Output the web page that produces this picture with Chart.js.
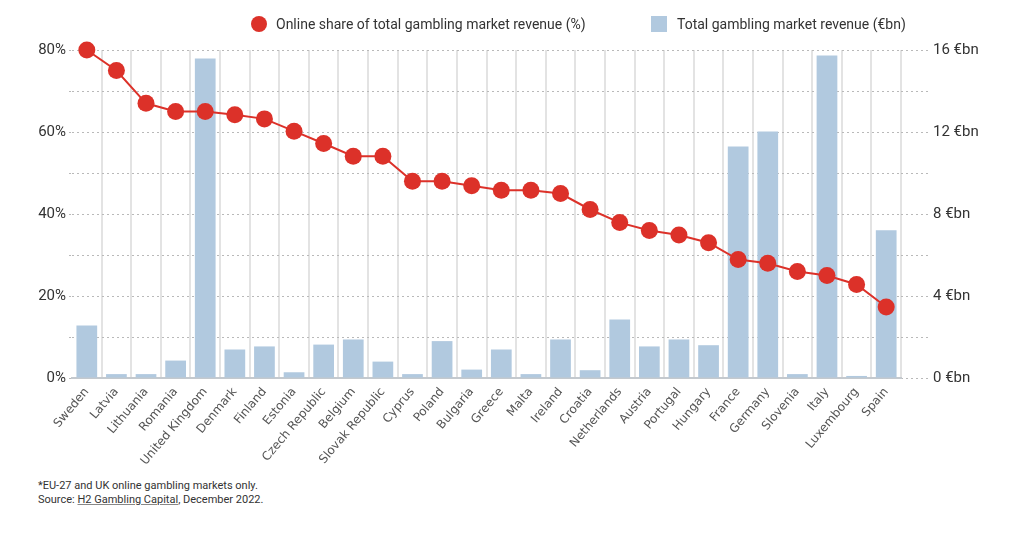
<!DOCTYPE html>
<html lang="en">
<head>
    <meta charset="utf-8">
    <title>Online share of gambling revenue</title>
    <script src="https://cdn.jsdelivr.net/npm/chart.js"></script>
    <style>
        body { margin: 0; background: #fff; font-family: Roboto, sans-serif; color: #333; }
        .wrap { position: relative; width: 1010px; height: 553px; }
        #chart { position: absolute; left: 0; top: 0; }
        .legend { position: absolute; top: 15px; font-size: 14px; line-height: 18px; white-space: nowrap; }
        .legend span.mark { position: absolute; top: 1px; }
        .dot { width: 16px; height: 16px; border-radius: 50%; background: #dc3129; }
        .sq { width: 16px; height: 16px; background: #b1c9df; }
        .note { position: absolute; left: 38px; top: 479px; font-size: 11px; line-height: 14px; color: #333; }
        .note u { text-decoration-color: #888; }
    </style>
</head>
<body>
    <div class="wrap">
        <canvas id="chart" width="1010" height="470"></canvas>
        <div class="legend" style="left:251px"><span class="mark dot" style="left:0"></span><span style="padding-left:25px">Online share of total gambling market revenue (%)</span></div>
        <div class="legend" style="left:651px"><span class="mark sq" style="left:0"></span><span style="padding-left:26px">Total gambling market revenue (€bn)</span></div>
        <div class="note">*EU-27 and UK online gambling markets only.<br>Source: <u>H2 Gambling Capital</u>, December 2022.</div>
    </div>

    <script>
        const countries = ['Sweden', 'Latvia', 'Lithuania', 'Romania', 'United Kingdom', 'Denmark', 'Finland',
            'Estonia', 'Czech Republic', 'Belgium', 'Slovak Republic', 'Cyprus', 'Poland', 'Bulgaria', 'Greece',
            'Malta', 'Ireland', 'Croatia', 'Netherlands', 'Austria', 'Portugal', 'Hungary', 'France', 'Germany',
            'Slovenia', 'Italy', 'Luxembourg', 'Spain'];

        // online share of total gambling revenue, %
        const onlineShare = [80, 75, 67, 65, 65, 64.2, 63.2, 60.2, 57.2, 54.1, 54.1, 48, 48, 46.9, 45.8,
            45.8, 45, 41.1, 37.9, 36, 34.9, 33, 28.9, 28, 26, 25, 22.8, 17.3];

        // total gambling market revenue, €bn
        const revenue = [2.56, 0.19, 0.19, 0.85, 15.58, 1.39, 1.54, 0.28, 1.63, 1.88, 0.8, 0.19, 1.8, 0.41, 1.39,
            0.19, 1.88, 0.38, 2.85, 1.54, 1.88, 1.6, 11.29, 12.02, 0.19, 15.73, 0.1, 7.21];

        const shareTicks = [0, 20, 40, 60, 80];
        const revenueTicks = [0, 4, 8, 12, 16];

        const red = '#dc3129';
        const blue = '#b1c9df';
        const tickFont = { family: 'Roboto', size: 15 };

        const ctx = document.getElementById('chart').getContext('2d');
        new Chart(ctx, {
            type: 'bar',
            data: {
                labels: countries,
                datasets: [{
                    type: 'line',
                    label: 'Online share of total gambling market revenue (%)',
                    data: onlineShare,
                    yAxisID: 'yShare',
                    borderColor: red,
                    backgroundColor: red,
                    borderWidth: 2,
                    pointRadius: 8.5,
                    pointHoverRadius: 8.5,
                    pointBorderWidth: 0,
                    tension: 0,
                    clip: false,
                    order: 0
                }, {
                    type: 'bar',
                    label: 'Total gambling market revenue (€bn)',
                    data: revenue,
                    yAxisID: 'yRev',
                    backgroundColor: blue,
                    barPercentage: 0.7,
                    categoryPercentage: 1,
                    order: 1
                }]
            },
            options: {
                responsive: false,
                animation: false,
                devicePixelRatio: 1,
                layout: { padding: { top: 50, left: 0, right: 0, bottom: 0 } },
                plugins: {
                    legend: { display: false },
                    tooltip: { enabled: false }
                },
                scales: {
                    x: {
                        offset: true,
                        grid: {
                            offset: true,
                            drawTicks: false,
                            lineWidth: 2,
                            color: c => c.index === 0 ? 'rgba(0,0,0,0)' : '#e3e3e3'
                        },
                        border: { display: true, color: '#c4c9ce', width: 2 },
                        ticks: {
                            autoSkip: false,
                            minRotation: 50,
                            maxRotation: 50,
                            padding: 7,
                            color: '#555',
                            font: { family: 'DejaVu Sans', size: 12 }
                        },
                        afterFit: s => { s.height = 92; }
                    },
                    yShare: {
                        position: 'left',
                        min: 0,
                        max: 80,
                        grid: {
                            color: '#b9b9b9',
                            lineWidth: 1,
                            tickLength: 3,
                            tickBorderDash: [2, 3]
                        },
                        border: { display: false, dash: [2, 3] },
                        ticks: {
                            stepSize: 5,
                            padding: 3,
                            color: '#333',
                            font: tickFont,
                            callback: v => shareTicks.includes(v) ? v + '%' : ''
                        },
                        afterFit: s => { s.width = 72; }
                    },
                    yRev: {
                        position: 'right',
                        min: 0,
                        max: 16,
                        grid: {
                            drawOnChartArea: false,
                            tickLength: 30,
                            tickColor: '#b9b9b9',
                            tickBorderDash: [2, 3]
                        },
                        border: { display: false },
                        ticks: {
                            stepSize: 1,
                            padding: 2,
                            color: '#333',
                            font: tickFont,
                            callback: v => revenueTicks.includes(v) ? v + ' €bn' : ''
                        },
                        afterFit: s => { s.width = 109; }
                    }
                }
            }
        });
    </script>
</body>
</html>
